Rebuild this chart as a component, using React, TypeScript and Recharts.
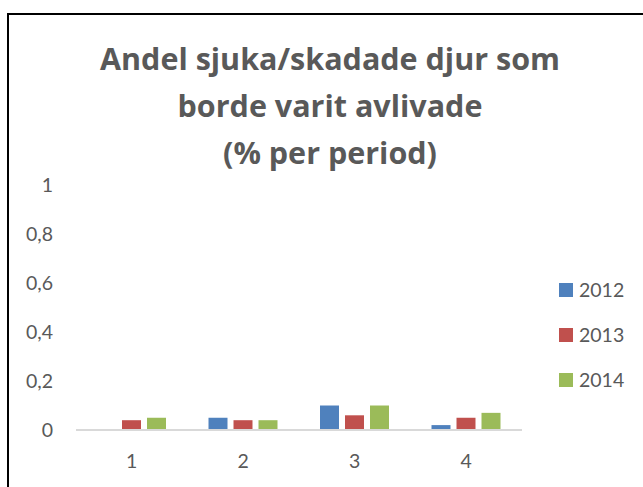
import React from "react";
import { BarChart, Bar, XAxis, YAxis } from "recharts";

const categories = ["1", "2", "3", "4"];
const series2012 = [0, 0.05, 0.1, 0.02];
const series2013 = [0.04, 0.04, 0.06, 0.05];
const series2014 = [0.05, 0.04, 0.1, 0.07];
const yTicks = [0, 0.2, 0.4, 0.6, 0.8, 1];
const seriesNames = ["2012", "2013", "2014"];
const seriesColors = ["#4F81BD", "#C0504D", "#9BBB59"];
const titleLines = ["Andel sjuka/skadade djur som", "borde varit avlivade", "(% per period)"];

const data = categories.map((c, i) => ({
  name: c,
  s2012: series2012[i],
  s2013: series2013[i],
  s2014: series2014[i],
}));
const keys = ["s2012", "s2013", "s2014"];

const FONT = "Lato, 'Open Sans', sans-serif";
const TITLE_FONT = "'Open Sans', sans-serif";
const GRAY = "#595959";

export default function App() {
  return (
    <div style={{ position: "absolute", left: 0, top: 0, width: 643, height: 487, background: "#fff", overflow: "hidden", fontFamily: FONT }}>
      <div style={{ position: "absolute", left: 7, top: 13, width: 700, height: 600, border: "2px solid #000", boxSizing: "border-box" }} />
      <svg style={{ position: "absolute", left: 0, top: 0 }} width={643} height={180}>
        {titleLines.map((t, i) => (
          <text key={i} x={330} y={70 + i * 47} textAnchor="middle" fontFamily={TITLE_FONT} fontWeight={700} fontSize={30.5} fill={GRAY}>
            {t}
          </text>
        ))}
      </svg>
      <div style={{ position: "absolute", left: 0, top: 0 }}>
        <BarChart width={643} height={487} data={data} margin={{ top: 185, right: 121, bottom: 0, left: 0 }} barSize={19} barGap={6}>
          <XAxis
            dataKey="name"
            height={57}
            tickLine={false}
            tickSize={6}
            tickMargin={18}
            axisLine={{ stroke: "#D9D9D9", strokeWidth: 2 }}
            tick={{ fill: GRAY, fontSize: 19.5, fontFamily: FONT }}
          />
          <YAxis
            width={76}
            domain={[0, 1]}
            ticks={yTicks}
            interval={0}
            axisLine={false}
            tickLine={false}
            tickSize={6}
            tickMargin={17}
            tickFormatter={(v: number) => String(v).replace(".", ",")}
            tick={{ fill: GRAY, fontSize: 19.5, fontFamily: FONT }}
          />
          {keys.map((k, i) => (
            <Bar key={k} dataKey={k} name={seriesNames[i]} fill={seriesColors[i]} isAnimationActive={false} />
          ))}
        </BarChart>
      </div>
      {seriesNames.map((n, i) => (
        <div key={n} style={{ position: "absolute", left: 559, top: 283 + i * 45, height: 14, display: "flex", alignItems: "center" }}>
          <div style={{ width: 14, height: 14, background: seriesColors[i] }} />
          <span style={{ marginLeft: 6, fontSize: 19.5, color: GRAY, fontFamily: FONT, lineHeight: "14px" }}>{n}</span>
        </div>
      ))}
    </div>
  );
}
